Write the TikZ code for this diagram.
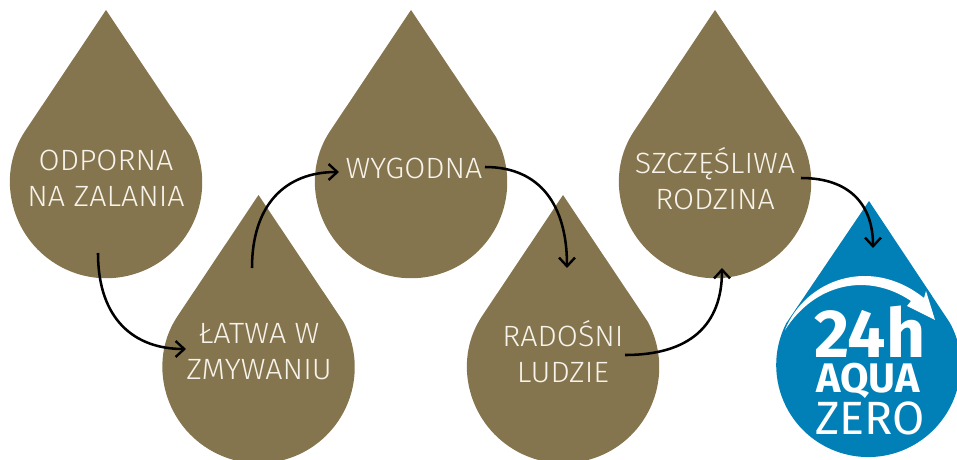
\documentclass[tikz,border=0pt]{standalone}
\usepackage{fontspec}
\setmainfont{Fira Sans}
\newfontfamily\lbl[FakeStretch=1.04]{Fira Sans Light}
\definecolor{dropbrown}{HTML}{85754E}
\definecolor{dropblue}{HTML}{0080B7}
\definecolor{lbltext}{HTML}{F6F3EA}
\usetikzlibrary{arrows.meta}
\tikzset{
  x=0.75pt,y=-0.75pt,
  brown drop/.style={fill=dropbrown,draw=none},
  blue drop/.style={fill=dropblue,draw=none},
  lab/.style={text=lbltext,align=center,inner sep=0pt,font=\lbl\fontsize{22}{27}\selectfont},
  conn/.style={draw=black,line width=1.9pt,-{Straight Barb[length=6.5pt,width=12pt,line width=1.8pt]}},
  badge/.style={text=white,inner sep=0pt,anchor=center},
}
\newcommand{\mydrop}[4]{% style, cx, cy, r
  \path[#1,rounded corners=2pt] (#2,#3-172) -- (#2-0.85*#4,#3-0.52*#4)
     [sharp corners] arc[start angle=211.5,end angle=-28.5,radius=#4] -- cycle;}
\begin{document}
\begin{tikzpicture}
\useasboundingbox (0,0) rectangle (957,460);
\mydrop{brown drop}{106}{182}{96}
\mydrop{brown drop}{258.5}{367}{96}
\mydrop{brown drop}{411}{182}{96}
\mydrop{brown drop}{563}{367}{96}
\mydrop{brown drop}{715}{182}{96}
\path[blue drop,rounded corners=2pt] (869,201) -- (950,323) [sharp corners] arc[start angle=-27.2,end angle=207,radius=92] -- cycle;
\node[lab] (n1) at (106,178.5) {ODPORNA\\NA ZALANIA};
\node[lab] (n2) at (259,351.5) {ŁATWA W\\ZMYWANIU};
\node[lab] (n3) at (414,168.5) {WYGODNA};
\node[lab] (n4) at (563,351.5) {RADOŚNI\\LUDZIE};
\node[lab] (n5) at (715,178.5) {SZCZĘŚLIWA\\RODZINA};
\fill[white] (785,330) .. controls (805,280) and (870,255) .. (924,298) -- (926,291) -- (935,320) -- (907,306) -- (911,301) .. controls (868,272) and (815,283) .. (785,330) -- cycle;
\node[badge,font=\bfseries\fontsize{51}{51}\selectfont] (b1) at (870,332) {24h};
\node[badge,font=\bfseries\fontsize{31}{31}\selectfont] (b2) at (868,381) {AQUA};
\node[badge,font=\fontsize{35}{35}\selectfont] (b3) at (870,418) {ZERO};
\coordinate (a1) at (98,253);
\coordinate (a2) at (186,349);
\coordinate (a3) at (252,268);
\coordinate (a4) at (339,172);
\coordinate (a5) at (485,167);
\coordinate (a6) at (567,268);
\coordinate (a7) at (625,355);
\coordinate (a8) at (722,268);
\coordinate (a9) at (801,178);
\coordinate (a10) at (873,248);
\draw[conn] (a1) .. controls (98,320) and (135,349) .. (a2);
\draw[conn] (a3) .. controls (252,205) and (285,172) .. (a4);
\draw[conn] (a5) .. controls (540,167) and (567,205) .. (a6);
\draw[conn] (a7) .. controls (690,355) and (722,325) .. (a8);
\draw[conn] (a9) .. controls (850,178) and (873,205) .. (a10);
\end{tikzpicture}
\end{document}
